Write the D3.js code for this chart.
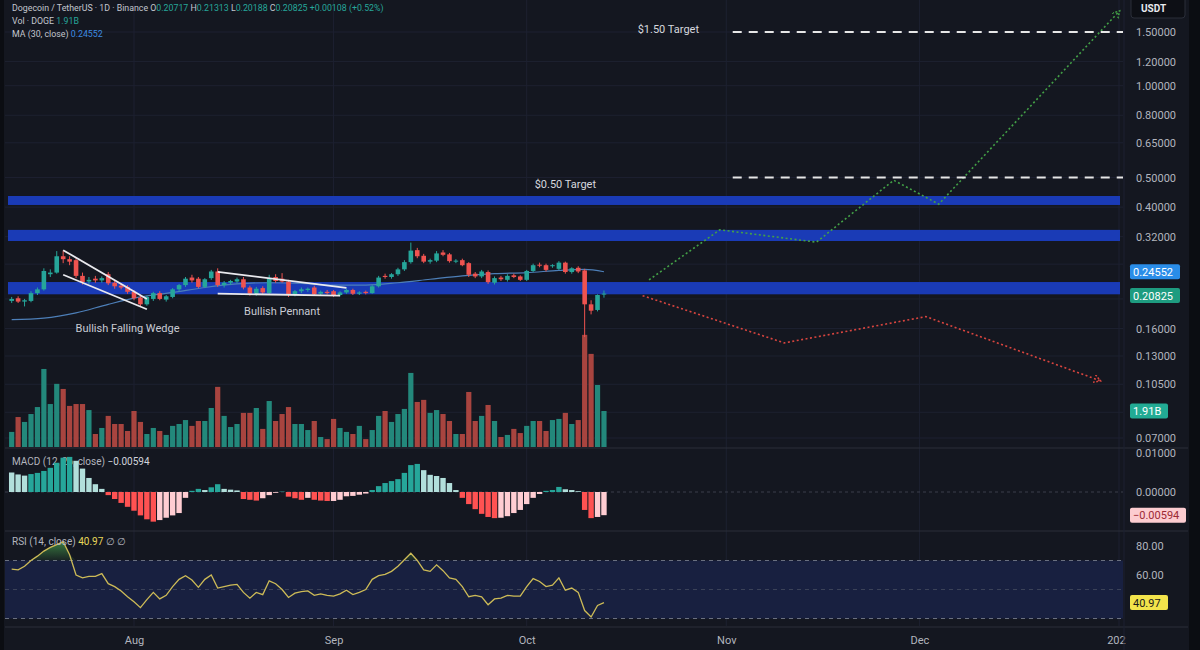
<!DOCTYPE html>
<html>
<head>
<meta charset="utf-8">
<script src="https://cdn.jsdelivr.net/npm/d3@7"></script>
<style>
  body { margin: 0; background: #141720; }
  svg { display: block; font-family: Roboto, "Liberation Sans", sans-serif; }
</style>
</head>
<body>
<div id="chart"></div>
<script>
// daily candles, 13 Jul 2025 -> 13 Oct 2025 (DOGE/USDT 1D)
const firstDay = new Date(2025, 6, 13);
const opens = [0.197,0.201,0.196,0.197,0.209,0.215,0.241,0.244,0.276,0.270,0.268,0.238,0.228,0.233,0.230,0.241,0.226,0.221,0.219,0.211,
  0.202,0.192,0.200,0.209,0.199,0.203,0.215,0.222,0.235,0.233,0.219,0.234,0.246,0.222,0.226,0.228,0.232,0.218,0.208,0.217,
  0.209,0.236,0.233,0.228,0.207,0.212,0.214,0.218,0.208,0.211,0.212,0.206,0.210,0.214,0.208,0.211,0.209,0.220,0.238,0.236,
  0.241,0.250,0.264,0.289,0.277,0.265,0.267,0.284,0.280,0.265,0.268,0.262,0.242,0.237,0.245,0.226,0.235,0.231,0.239,0.237,
  0.231,0.247,0.259,0.258,0.256,0.251,0.263,0.245,0.253,0.248,0.192,0.184,0.20717];
const highs = [0.203,0.204,0.200,0.212,0.218,0.252,0.250,0.287,0.288,0.276,0.272,0.244,0.236,0.238,0.237,0.245,0.229,0.225,0.222,0.214,
  0.205,0.205,0.211,0.212,0.206,0.217,0.224,0.236,0.240,0.236,0.234,0.249,0.252,0.229,0.231,0.235,0.236,0.221,0.219,0.220,
  0.240,0.241,0.243,0.231,0.214,0.218,0.218,0.221,0.213,0.214,0.214,0.212,0.216,0.216,0.212,0.213,0.222,0.238,0.242,0.243,
  0.253,0.268,0.306,0.294,0.281,0.271,0.287,0.289,0.283,0.270,0.271,0.264,0.245,0.249,0.248,0.237,0.238,0.241,0.242,0.239,
  0.249,0.261,0.263,0.261,0.260,0.266,0.265,0.254,0.256,0.251,0.198,0.207,0.21313];
const lows = [0.194,0.194,0.189,0.195,0.206,0.213,0.236,0.242,0.262,0.258,0.234,0.223,0.224,0.226,0.226,0.222,0.216,0.215,0.208,0.198,
  0.188,0.190,0.197,0.198,0.196,0.201,0.212,0.219,0.226,0.217,0.217,0.231,0.219,0.218,0.222,0.225,0.215,0.205,0.205,0.207,
  0.206,0.226,0.226,0.203,0.204,0.209,0.211,0.205,0.205,0.207,0.203,0.204,0.208,0.206,0.206,0.207,0.208,0.218,0.233,0.233,
  0.238,0.247,0.261,0.272,0.262,0.261,0.264,0.276,0.263,0.262,0.256,0.236,0.234,0.234,0.224,0.223,0.229,0.228,0.234,0.229,
  0.229,0.245,0.254,0.246,0.253,0.249,0.242,0.242,0.243,0.150,0.178,0.182,0.20188];
const closes = [0.200,0.196,0.198,0.209,0.215,0.247,0.244,0.276,0.270,0.265,0.238,0.227,0.231,0.230,0.234,0.225,0.220,0.218,0.211,0.201,
  0.192,0.203,0.209,0.200,0.204,0.215,0.222,0.233,0.230,0.219,0.232,0.246,0.222,0.226,0.229,0.232,0.218,0.208,0.216,0.210,
  0.234,0.229,0.228,0.206,0.212,0.215,0.216,0.207,0.211,0.209,0.206,0.210,0.214,0.208,0.210,0.209,0.220,0.235,0.236,0.241,
  0.250,0.264,0.288,0.276,0.265,0.268,0.282,0.279,0.266,0.267,0.258,0.240,0.237,0.246,0.227,0.234,0.232,0.238,0.236,0.231,
  0.247,0.258,0.257,0.249,0.258,0.263,0.245,0.252,0.246,0.192,0.183,0.206,0.20825];
// volume in billions of DOGE
const volumes = [0.80,1.59,1.33,1.75,2.12,4.14,2.28,3.35,3.08,2.18,2.28,2.28,1.96,0.69,1.01,1.65,1.22,1.22,0.85,1.91,
  1.33,0.69,1.01,0.85,0.64,1.12,1.22,1.43,1.12,1.38,1.38,2.07,3.19,1.65,1.06,1.22,1.81,1.81,2.07,0.96,
  2.44,1.38,1.75,2.12,1.22,1.22,0.90,1.38,0.53,0.42,1.49,1.01,0.80,0.69,1.12,0.42,0.90,1.65,1.91,1.33,
  1.75,2.02,3.93,2.39,2.50,1.81,1.96,1.75,1.38,0.69,0.69,2.92,1.38,1.65,2.23,1.38,0.53,0.64,0.96,0.74,
  1.12,1.38,1.38,0.85,1.43,1.49,1.81,1.22,1.43,5.95,4.94,3.29,1.91];
// MA(30) read at some candle indexes: [index, value]
const maPoints = [[0,0.171],[5,0.173],[10,0.180],[15,0.192],[20,0.203],[25,0.210],[30,0.218],[35,0.224],[40,0.226],[45,0.225],
  [50,0.222],[55,0.222],[60,0.226],[65,0.232],[70,0.238],[75,0.242],[80,0.244],[85,0.248],[89,0.250],[92,0.24552]];
const macdHist = [0.0050,0.0045,0.0042,0.0046,0.0049,0.0054,0.0062,0.0075,0.0088,0.0090,0.0080,0.0060,0.0036,0.0020,0.0008,
  -0.0008,-0.0018,-0.0028,-0.0038,-0.0048,-0.0060,-0.0070,-0.0076,-0.0072,-0.0066,-0.0060,-0.0054,-0.0015,
  0.0003,0.0008,0.0005,0.0012,0.0020,0.0008,0.0006,0.0004,
  -0.0018,-0.0020,-0.0022,-0.0016,-0.0008,-0.0002,0.0001,
  -0.0012,-0.0016,-0.0020,-0.0015,-0.0020,-0.0022,-0.0023,-0.0023,-0.0020,-0.0011,-0.0010,-0.0007,-0.0004,
  0.0005,0.0015,0.0023,0.0028,0.0033,0.0049,0.0069,0.0072,0.0056,0.0044,0.0041,0.0036,0.0023,0.0005,
  -0.0015,-0.0031,-0.0044,-0.0056,-0.0064,-0.0067,-0.0066,-0.0062,-0.0054,-0.0046,-0.0031,-0.0015,-0.0005,
  0.0003,0.0005,0.0013,0.0007,0.0005,0.0002,
  -0.0046,-0.0067,-0.0064,-0.00594];
const rsi = [64,63.5,66,70,73,76.5,79,81,83,74,60,58,59,59,61,54,52,49,45,41.5,
  37.5,43,48,43.5,46,52,57,59.5,56.5,51.5,57,60,51,52,53,53.5,48,44,48,46.5,
  56,54,50,44.5,47.5,48.5,49,46,47,46,45.5,47,49.5,46.5,48,50,57,59.5,60.5,62.5,
  66,70.5,75,70,63.5,62.5,67,63,58,57,52,45,46,45,39.5,43.5,44,46,45.5,45.5,
  52,57.5,55.5,52,53,58,49.5,51,48,35.5,31,39,40.97];

// zones and drawings
const zones = [[0.4065, 0.435], [0.3097, 0.3368], [0.2071, 0.2272]];
const priceTicks = [1.5, 1.2, 1.0, 0.8, 0.65, 0.5, 0.4, 0.32, 0.26, 0.2, 0.16, 0.13, 0.105, 0.085, 0.07];
const hiddenTickLabels = [0.26, 0.2, 0.085];
const monthTicks = [new Date(2025,7,1), new Date(2025,8,1), new Date(2025,9,1), new Date(2025,10,1), new Date(2025,11,1), new Date(2026,0,1)];
const wedgeUpper = [[new Date(2025,6,21), 0.289], [new Date(2025,7,3), 0.200]];
const wedgeLower = [[new Date(2025,6,21), 0.240], [new Date(2025,7,3), 0.185]];
const pennantUpper = [[new Date(2025,7,14), 0.2453], [new Date(2025,8,3), 0.2174]];
const pennantLower = [[new Date(2025,7,14), 0.2081], [new Date(2025,8,2), 0.2050]];
const bullPath = [[new Date(2025,9,20), 0.231], [new Date(2025,9,31), 0.337], [new Date(2025,10,15), 0.307],
  [new Date(2025,10,27), 0.49], [new Date(2025,11,4), 0.409], [new Date(2026,0,1), 1.75]];
const bearPath = [[new Date(2025,9,19), 0.205], [new Date(2025,10,10), 0.1435], [new Date(2025,11,2), 0.175], [new Date(2025,11,29), 0.108]];
const targets = [[1.5, "$1.50 Target", new Date(2025,9,23)], [0.5, "$0.50 Target", new Date(2025,9,7)]];
const targetStart = new Date(2025,10,2);

function drawChart() {
    let W = 1200, H = 650;
    let plotLeft = 5, plotRight = 1123;

    let svg = d3.select("#chart").append("svg")
        .attr("width", W).attr("height", H)
        .style("background", "#141720");

    let xScale = d3.scaleTime().domain([monthTicks[0], monthTicks[5]]).range([134, 1119]);
    let yPrice = d3.scaleLog().domain([1.5, 0.07]).range([32, 438]);
    let yVol = d3.scaleLinear().domain([0, 1.91]).range([447, 411]);
    let yMacd = d3.scaleLinear().domain([0, 0.01]).range([492, 453]);
    let yRsi = d3.scaleLinear().domain([80, 60]).range([546, 575]);

    let candles = closes.map(function(c, i) {
        return {date: d3.timeDay.offset(firstDay, i), o: opens[i], h: highs[i], l: lows[i], c: c, v: volumes[i]};
    });
    let up = "#26a69a", down = "#ef5350";

    let defs = svg.append("defs");
    defs.append("clipPath").attr("id", "mainClip").append("rect")
        .attr("x", plotLeft).attr("y", 0).attr("width", plotRight - plotLeft).attr("height", 448);
    defs.append("clipPath").attr("id", "axisClip").append("rect")
        .attr("x", plotLeft).attr("y", 626).attr("width", plotRight - plotLeft + 3).attr("height", 24);
    let grad = defs.append("linearGradient").attr("id", "rsiFill").attr("x1", 0).attr("x2", 0)
        .attr("gradientUnits", "userSpaceOnUse")
        .attr("y1", yRsi(85)).attr("y2", yRsi(70));
    grad.append("stop").attr("offset", "0%").attr("stop-color", "#4caf50").attr("stop-opacity", 0.75);
    grad.append("stop").attr("offset", "100%").attr("stop-color", "#4caf50").attr("stop-opacity", 0.08);

    ["bull", "bear"].forEach(function(k) {
        let col = k == "bull" ? "#43a047" : "#d9453f";
        defs.append("marker").attr("id", "arrow-" + k)
            .attr("markerWidth", 10).attr("markerHeight", 10)
            .attr("refX", 6).attr("refY", 4).attr("orient", "auto")
            .attr("markerUnits", "userSpaceOnUse")
            .append("path").attr("d", "M0,0 L7,4 L0,8")
            .style("fill", "none").style("stroke", col).style("stroke-width", 1.5).style("stroke-dasharray", "2,1.5");
    });

    // grid
    let grid = svg.append("g");
    grid.selectAll("line.v").data(monthTicks).enter().append("line")
        .attr("x1", xScale).attr("x2", xScale).attr("y1", 0).attr("y2", 626)
        .style("stroke", "#1d2130");
    grid.selectAll("line.h").data(priceTicks).enter().append("line")
        .attr("x1", plotLeft).attr("x2", plotRight).attr("y1", yPrice).attr("y2", yPrice)
        .style("stroke", "#1d2130");

    let main = svg.append("g").attr("clip-path", "url(#mainClip)");

    // support / resistance zones
    main.selectAll("rect.zone").data(zones).enter().append("rect")
        .attr("x", plotLeft + 3).attr("width", plotRight - plotLeft - 6)
        .attr("y", function(d) { return yPrice(d[1]); })
        .attr("height", function(d) { return yPrice(d[0]) - yPrice(d[1]); })
        .style("fill", "#1a3bb6");

    // volume
    main.selectAll("rect.vol").data(candles).enter().append("rect")
        .attr("x", function(d) { return xScale(d.date) - 2.6; })
        .attr("width", 5.2)
        .attr("y", function(d) { return yVol(d.v); })
        .attr("height", function(d) { return yVol(0) - yVol(d.v); })
        .style("fill", function(d) { return d.c >= d.o ? "#23887b" : "#a8443f"; });

    // MA 30
    let maLine = d3.line()
        .x(function(d) { return xScale(d3.timeDay.offset(firstDay, d[0])); })
        .y(function(d) { return yPrice(d[1]); })
        .curve(d3.curveMonotoneX);
    main.append("path").datum(maPoints).attr("d", maLine)
        .style("fill", "none").style("stroke", "#4d7fb8").style("stroke-width", 1.2);

    // candles
    let cg = main.append("g");
    cg.selectAll("line").data(candles).enter().append("line")
        .attr("x1", function(d) { return xScale(d.date); })
        .attr("x2", function(d) { return xScale(d.date); })
        .attr("y1", function(d) { return yPrice(d.h); })
        .attr("y2", function(d) { return yPrice(d.l); })
        .style("stroke", function(d) { return d.c >= d.o ? up : down; });
    cg.selectAll("rect").data(candles).enter().append("rect")
        .attr("x", function(d) { return xScale(d.date) - 2.3; })
        .attr("width", 4.6)
        .attr("y", function(d) { return yPrice(Math.max(d.o, d.c)); })
        .attr("height", function(d) { return Math.max(1, Math.abs(yPrice(d.o) - yPrice(d.c))); })
        .style("fill", function(d) { return d.c >= d.o ? up : down; });

    // pattern lines
    let pLine = d3.line().x(function(d) { return xScale(d[0]); }).y(function(d) { return yPrice(d[1]); });
    [wedgeUpper, wedgeLower, pennantUpper, pennantLower].forEach(function(seg) {
        main.append("path").attr("d", pLine(seg))
            .style("stroke", "#e9e9ee").style("stroke-width", 1.8).style("fill", "none");
    });
    main.append("text").attr("x", xScale(new Date(2025,6,31))).attr("y", yPrice(0.16) + 4)
        .attr("text-anchor", "middle").style("font-size", "11px").style("fill", "#c9cbd3")
        .text("Bullish Falling Wedge");
    main.append("text").attr("x", xScale(new Date(2025,7,24))).attr("y", yPrice(0.183) + 4)
        .attr("text-anchor", "middle").style("font-size", "11px").style("fill", "#c9cbd3")
        .text("Bullish Pennant");

    // projected paths
    main.append("path").attr("d", pLine(bullPath))
        .style("fill", "none").style("stroke", "#43a047").style("stroke-width", 1.6)
        .style("stroke-dasharray", "2,2.5").attr("marker-end", "url(#arrow-bull)");
    main.append("path").attr("d", pLine(bearPath))
        .style("fill", "none").style("stroke", "#d9453f").style("stroke-width", 1.6)
        .style("stroke-dasharray", "2,2.5").attr("marker-end", "url(#arrow-bear)");

    // targets
    targets.forEach(function(t) {
        main.append("line")
            .attr("x1", xScale(targetStart)).attr("x2", plotRight)
            .attr("y1", yPrice(t[0])).attr("y2", yPrice(t[0]))
            .style("stroke", "#e6e6e6").style("stroke-width", 2).style("stroke-dasharray", "9,7");
        main.append("text").attr("x", xScale(t[2]))
            .attr("y", yPrice(t[0]) + (t[0] > 1 ? 1 : 10))
            .attr("text-anchor", "middle").style("font-size", "11px").style("fill", "#d6d8de")
            .text(t[1]);
    });

    // pane separators
    [448, 531, 627].forEach(function(y) {
        svg.append("line").attr("x1", plotLeft).attr("x2", 1188).attr("y1", y).attr("y2", y)
            .style("stroke", "#2a2e39");
    });

    // MACD pane
    svg.append("line").attr("x1", plotLeft).attr("x2", plotRight).attr("y1", yMacd(0)).attr("y2", yMacd(0))
        .style("stroke", "#3a3e4b").style("stroke-dasharray", "3,3");
    svg.append("text").attr("x", 12).attr("y", 465).style("font-size", "10px").style("fill", "#b2b5be")
        .text("MACD (12, 26, close)")
        .append("tspan").style("fill", "#d1d4dc").text("  \u22120.00594");
    svg.append("g").selectAll("rect").data(macdHist).enter().append("rect")
        .attr("x", function(d, i) { return xScale(d3.timeDay.offset(firstDay, i)) - 2.7; })
        .attr("width", 5.4)
        .attr("y", function(d) { return Math.min(yMacd(d), yMacd(0)); })
        .attr("height", function(d) { return Math.abs(yMacd(d) - yMacd(0)); })
        .style("fill", function(d, i) {
            let prev = i > 0 ? macdHist[i - 1] : d + 1;
            if (d >= 0) return d > prev ? "#26a69a" : "#b2dfdb";
            return d < prev ? "#ff5252" : "#ffcdd2";
        });

    // RSI pane
    svg.append("rect").attr("x", plotLeft).attr("width", plotRight - plotLeft)
        .attr("y", yRsi(70)).attr("height", yRsi(30) - yRsi(70))
        .style("fill", "#182040");
    [70, 50, 30].forEach(function(v) {
        svg.append("line").attr("x1", plotLeft).attr("x2", plotRight).attr("y1", yRsi(v)).attr("y2", yRsi(v))
            .style("stroke", v == 50 ? "#3b4258" : "#6a7080").style("stroke-dasharray", "4,4");
    });
    let rsiArea = d3.area()
        .x(function(d, i) { return xScale(d3.timeDay.offset(firstDay, i)); })
        .y0(yRsi(70))
        .y1(function(d) { return yRsi(Math.max(d, 70)); });
    svg.append("path").datum(rsi).attr("d", rsiArea).style("fill", "url(#rsiFill)");
    let rsiLine = d3.line()
        .x(function(d, i) { return xScale(d3.timeDay.offset(firstDay, i)); })
        .y(function(d) { return yRsi(d); });
    svg.append("path").datum(rsi).attr("d", rsiLine)
        .style("fill", "none").style("stroke", "#cdbb57").style("stroke-width", 1.3);
    let rsiLabel = svg.append("text").attr("x", 12).attr("y", 545).style("font-size", "10px").style("fill", "#b2b5be");
    rsiLabel.append("tspan").text("RSI (14, close) ");
    rsiLabel.append("tspan").style("fill", "#e8d85a").text(" 40.97 ");
    rsiLabel.append("tspan").text(" \u2205  \u2205");

    // time axis (clip on outer group, so the clip box stays in page coordinates)
    let xAxis = d3.axisBottom(xScale).tickValues(monthTicks).tickSize(0).tickPadding(7)
        .tickFormat(function(d) { return d.getMonth() === 0 ? d3.timeFormat("%Y")(d) : d3.timeFormat("%b")(d); });
    let xg = svg.append("g").attr("clip-path", "url(#axisClip)")
        .append("g").attr("transform", "translate(0,629)").call(xAxis);
    xg.select(".domain").remove();
    xg.selectAll("text").style("font-size", "11px").style("fill", "#b2b5be").style("font-family", "Roboto, sans-serif");

    // price axis
    let yAxis = d3.axisRight(yPrice)
        .tickValues(priceTicks.filter(function(d) { return hiddenTickLabels.indexOf(d) < 0; }))
        .tickSize(0).tickPadding(0)
        .tickFormat(d3.format(".5f"));
    let yg = svg.append("g").attr("transform", "translate(1136,0)").call(yAxis);
    yg.select(".domain").remove();
    yg.selectAll("text").style("font-size", "11px").style("fill", "#b2b5be").style("font-family", "Roboto, sans-serif");

    let macdTicks = [0.01, 0];
    svg.selectAll("text.macdTick").data(macdTicks).enter().append("text")
        .attr("x", 1136).attr("y", function(d) { return yMacd(d) + 4; })
        .style("font-size", "11px").style("fill", "#b2b5be").text(d3.format(".5f"));
    let rsiTicks = [80, 60];
    svg.selectAll("text.rsiTick").data(rsiTicks).enter().append("text")
        .attr("x", 1136).attr("y", function(d) { return yRsi(d) + 4; })
        .style("font-size", "11px").style("fill", "#b2b5be").text(d3.format(".2f"));

    // last value labels
    let tags = [
        {y: yPrice(0.24552), text: "0.24552", bg: "#2a8de8", fg: "#ffffff", w: 50},
        {y: yPrice(0.20825) + 2, text: "0.20825", bg: "#1e9c80", fg: "#ffffff", w: 50},
        {y: yVol(1.91), text: "1.91B", bg: "#22ab94", fg: "#ffffff", w: 38},
        {y: yMacd(-0.00594), text: "\u22120.00594", bg: "#fcccd0", fg: "#9c2a35", w: 56},
        {y: yRsi(40.97), text: "40.97", bg: "#f3e44b", fg: "#1a1a1a", w: 38}
    ];
    tags.forEach(function(t) {
        svg.append("rect").attr("x", 1130).attr("y", t.y - 7.5).attr("width", t.w).attr("height", 15)
            .attr("rx", 2).style("fill", t.bg);
        svg.append("text").attr("x", 1133).attr("y", t.y + 4).style("font-size", "11px")
            .style("fill", t.fg).text(t.text);
    });

    // frame strips
    svg.append("rect").attr("x", 0).attr("y", 0).attr("width", 4).attr("height", H).style("fill", "#0b0d12");
    svg.append("rect").attr("x", 1189).attr("y", 0).attr("width", 11).attr("height", H).style("fill", "#0b0d12");
    svg.append("line").attr("x1", plotRight + 1).attr("x2", plotRight + 1).attr("y1", 0).attr("y2", 650)
        .style("stroke", "#1d2130");

    // currency box
    svg.append("rect").attr("x", 1131).attr("y", -3).attr("width", 54).attr("height", 21).attr("rx", 3)
        .style("fill", "#0d0f15").style("stroke", "#2a2e39");
    svg.append("text").attr("x", 1141).attr("y", 12).style("font-size", "10px").style("font-weight", "bold")
        .style("fill", "#e8e9ee").text("USDT");

    // legend
    let legSize = "8.8px";
    let leg1 = svg.append("text").attr("x", 12).attr("y", 11).style("font-size", legSize).style("fill", "#c3c6ce");
    leg1.append("tspan").text("Dogecoin / TetherUS \u00b7 1D \u00b7 Binance ");
    [["O", "0.20717"], ["H", "0.21313"], ["L", "0.20188"], ["C", "0.20825"]].forEach(function(p) {
        leg1.append("tspan").text(" " + p[0]);
        leg1.append("tspan").style("fill", "#26a69a").text(p[1]);
    });
    leg1.append("tspan").style("fill", "#26a69a").text(" +0.00108 (+0.52%)");
    let leg2 = svg.append("text").attr("x", 12).attr("y", 24).style("font-size", legSize).style("fill", "#c3c6ce");
    leg2.append("tspan").text("Vol \u00b7 DOGE ");
    leg2.append("tspan").style("fill", "#26a69a").text(" 1.91B");
    let leg3 = svg.append("text").attr("x", 12).attr("y", 37).style("font-size", legSize).style("fill", "#c3c6ce");
    leg3.append("tspan").text("MA (30, close) ");
    leg3.append("tspan").style("fill", "#3d8be0").text(" 0.24552");
}

window.onload = () => {
    drawChart();
}
</script>
</body>
</html>
